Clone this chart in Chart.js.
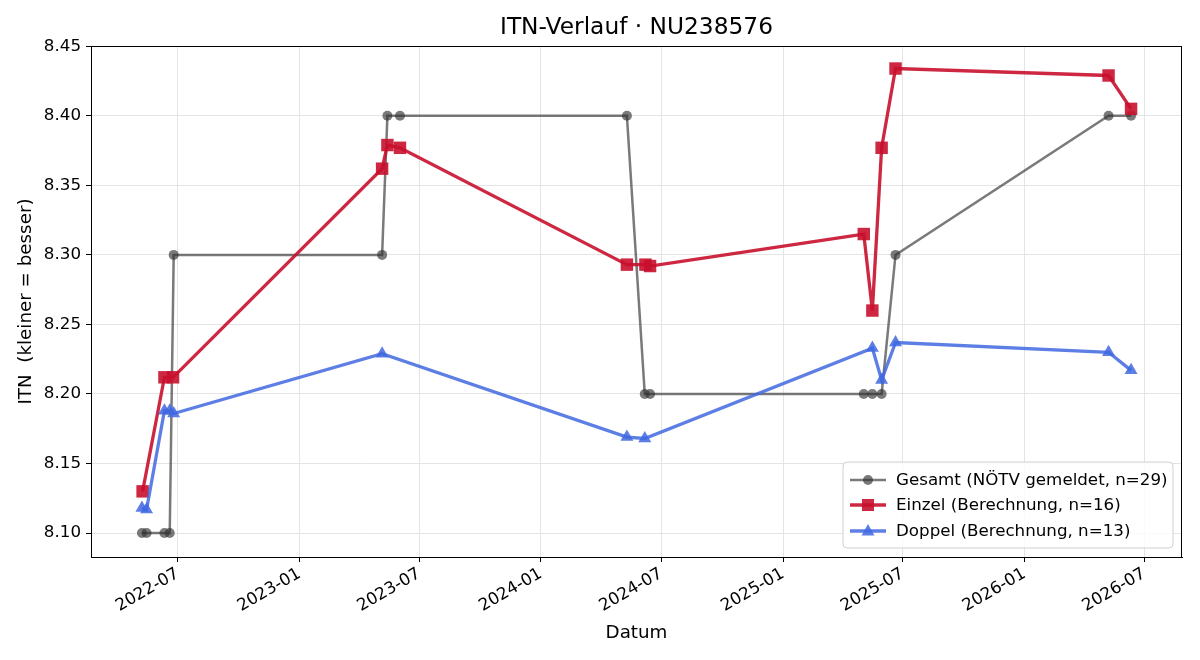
<!DOCTYPE html>
<html>
<head>
<meta charset="utf-8">
<script src="https://cdn.jsdelivr.net/npm/chart.js@4/dist/chart.umd.min.js"></script>
<style>
  html, body { margin: 0; padding: 0; background: #fff; }
  #wrap { width: 1200px; height: 660px; }
</style>
</head>
<body>
<div id="wrap"><canvas id="itnChart" width="1200" height="660"></canvas></div>
<script>
// ITN-Verlauf NU238576 — Gesamt / Einzel / Doppel over time
const chartTitle = 'ITN-Verlauf · NU238576';

const gesamtDates = ['2022-05-08', '2022-05-15', '2022-06-11', '2022-06-19', '2022-06-25', '2023-05-06', '2023-05-14', '2023-06-02',
    '2024-05-10', '2024-06-06', '2024-06-14', '2025-05-03', '2025-05-16', '2025-05-30', '2025-06-20', '2026-05-08', '2026-06-11'];
const gesamtValues = [8.10, 8.10, 8.10, 8.10, 8.30, 8.30, 8.40, 8.40, 8.40, 8.20, 8.20, 8.20, 8.20, 8.20, 8.30, 8.40, 8.40];

const einzelDates = ['2022-05-09', '2022-06-11', '2022-06-24', '2023-05-06', '2023-05-14', '2023-06-02', '2024-05-10', '2024-06-07',
    '2024-06-14', '2025-05-03', '2025-05-16', '2025-05-30', '2025-06-20', '2026-05-08', '2026-06-11'];
const einzelValues = [8.130, 8.212, 8.212, 8.362, 8.379, 8.377, 8.293, 8.293, 8.292, 8.315, 8.260, 8.377, 8.434, 8.429, 8.405];

const doppelDates = ['2022-05-08', '2022-05-15', '2022-06-11', '2022-06-19', '2022-06-25', '2023-05-06', '2024-05-10', '2024-06-06',
    '2025-05-16', '2025-05-30', '2025-06-20', '2026-05-08', '2026-06-11'];
const doppelValues = [8.118, 8.117, 8.188, 8.188, 8.186, 8.229, 8.169, 8.168, 8.233, 8.210, 8.237, 8.230, 8.217];

const xTickDates = ['2022-07-01', '2023-01-01', '2023-07-01', '2024-01-01', '2024-07-01', '2025-01-01', '2025-07-01', '2026-01-01', '2026-07-01'];
const yTicks = [8.10, 8.15, 8.20, 8.25, 8.30, 8.35, 8.40, 8.45];

const FONT = "'DejaVu Sans', 'Liberation Sans', sans-serif";

function ts(d) { return Date.parse(d + 'T00:00:00Z'); }
function toPoints(dates, values) {
    return dates.map(function (d, i) { return { x: ts(d), y: values[i] }; });
}

// title centred over the axes, frame (top/right spines) + matplotlib-style legend
const framePlugin = {
    id: 'frameLegend',
    afterDatasetsDraw: function (chart) {
        const a = chart.chartArea;
        const ctx = chart.ctx;
        ctx.save();
        ctx.strokeStyle = '#000';
        ctx.lineWidth = 1;
        ctx.strokeRect(Math.round(a.left) + 0.5, Math.round(a.top) + 0.5, Math.round(a.right - a.left) - 1, Math.round(a.bottom - a.top));

        ctx.fillStyle = '#000';
        ctx.font = '23.3px ' + FONT;
        ctx.textAlign = 'center';
        ctx.textBaseline = 'middle';
        ctx.fillText(chartTitle, (a.left + a.right) / 2, 28);

        // legend box
        const bx = 843, by = 462, bw = 330, bh = 86, r = 4;
        ctx.beginPath();
        ctx.moveTo(bx + r, by);
        ctx.arcTo(bx + bw, by, bx + bw, by + bh, r);
        ctx.arcTo(bx + bw, by + bh, bx, by + bh, r);
        ctx.arcTo(bx, by + bh, bx, by, r);
        ctx.arcTo(bx, by, bx + bw, by, r);
        ctx.closePath();
        ctx.fillStyle = 'rgba(255,255,255,0.8)';
        ctx.fill();
        ctx.strokeStyle = '#d0d0d0';
        ctx.stroke();

        const rows = [480, 505, 531];
        chart.data.datasets.forEach(function (ds, i) {
            const y = rows[i];
            ctx.strokeStyle = ds.borderColor;
            ctx.lineWidth = ds.borderWidth;
            ctx.beginPath();
            ctx.moveTo(850, y);
            ctx.lineTo(886, y);
            ctx.stroke();
            ctx.fillStyle = ds.pointBackgroundColor;
            const cx = 868;
            ctx.beginPath();
            if (ds.pointStyle === 'rect') {
                ctx.rect(cx - 6, y - 6, 12, 12);
            } else if (ds.pointStyle === 'triangle') {
                ctx.moveTo(cx, y - 7);
                ctx.lineTo(cx + 6.5, y + 4.5);
                ctx.lineTo(cx - 6.5, y + 4.5);
                ctx.closePath();
            } else {
                ctx.arc(cx, y, 5, 0, Math.PI * 2);
            }
            ctx.fill();
            ctx.fillStyle = '#000';
            ctx.font = '16.7px ' + FONT;
            ctx.textBaseline = 'middle';
            ctx.textAlign = 'left';
            ctx.fillText(ds.label, 896, y + 1);
        });
        ctx.restore();
    }
};

const ctx = document.getElementById('itnChart').getContext('2d');

new Chart(ctx, {
    type: 'line',
    data: {
        datasets: [
            {
                label: 'Gesamt (NÖTV gemeldet, n=29)',
                data: toPoints(gesamtDates, gesamtValues),
                borderColor: 'rgba(51, 51, 51, 0.65)',
                backgroundColor: 'rgba(51, 51, 51, 0.65)',
                pointBackgroundColor: 'rgba(51, 51, 51, 0.65)',
                pointBorderColor: 'rgba(51, 51, 51, 0.65)',
                borderWidth: 2.5,
                pointStyle: 'circle',
                pointRadius: 5,
                pointBorderWidth: 0,
                tension: 0,
                order: 3
            },
            {
                label: 'Einzel (Berechnung, n=16)',
                data: toPoints(einzelDates, einzelValues),
                borderColor: 'rgba(200, 16, 46, 0.9)',
                backgroundColor: 'rgba(200, 16, 46, 0.9)',
                pointBackgroundColor: 'rgba(200, 16, 46, 0.9)',
                pointBorderColor: 'rgba(200, 16, 46, 0.9)',
                borderWidth: 3.3,
                pointStyle: 'rect',
                pointRadius: 8.8,
                pointBorderWidth: 0,
                tension: 0,
                order: 2
            },
            {
                label: 'Doppel (Berechnung, n=13)',
                data: toPoints(doppelDates, doppelValues),
                borderColor: 'rgba(65, 105, 225, 0.85)',
                backgroundColor: 'rgba(65, 105, 225, 0.85)',
                pointBackgroundColor: 'rgba(65, 105, 225, 0.85)',
                pointBorderColor: 'rgba(65, 105, 225, 0.85)',
                borderWidth: 3.3,
                pointStyle: 'triangle',
                pointRadius: 7.5,
                pointBorderWidth: 0,
                tension: 0,
                order: 1
            }
        ]
    },
    options: {
        responsive: false,
        animation: false,
        layout: { padding: { left: 0, right: 18, top: 46, bottom: 0 } },
        plugins: {
            legend: { display: false },
            tooltip: { enabled: false },
            title: { display: false }
        },
        scales: {
            x: {
                type: 'linear',
                min: ts('2022-02-20'),
                max: ts('2026-08-27'),
                afterBuildTicks: function (axis) {
                    axis.ticks = xTickDates.map(function (d) { return { value: ts(d) }; });
                },
                afterFit: function (axis) { axis.height = 103; },
                ticks: {
                    color: '#000',
                    font: { family: FONT, size: 16.7 },
                    minRotation: 30,
                    maxRotation: 30,
                    padding: 2,
                    autoSkip: false,
                    callback: function (value) {
                        const d = new Date(value);
                        const m = d.getUTCMonth() + 1;
                        return d.getUTCFullYear() + '-' + (m < 10 ? '0' + m : m);
                    }
                },
                grid: { color: '#e4e4e4', tickColor: '#000', tickLength: 5, lineWidth: 1 },
                border: { display: true, color: '#000', width: 1 },
                title: {
                    display: true,
                    text: 'Datum',
                    color: '#000',
                    font: { family: FONT, size: 18.3 },
                    padding: { top: 0, bottom: 16 }
                }
            },
            y: {
                type: 'linear',
                min: 8.0828,
                max: 8.4502,
                afterBuildTicks: function (axis) {
                    axis.ticks = yTicks.map(function (v) { return { value: v }; });
                },
                afterFit: function (axis) { axis.width = 91; },
                ticks: {
                    color: '#000',
                    font: { family: FONT, size: 16.7 },
                    padding: 5,
                    callback: function (value) { return value.toFixed(2); }
                },
                grid: { color: '#e4e4e4', tickColor: '#000', tickLength: 5, lineWidth: 1 },
                border: { display: true, color: '#000', width: 1 },
                title: {
                    display: true,
                    text: 'ITN  (kleiner = besser)',
                    color: '#000',
                    font: { family: FONT, size: 18.3 },
                    padding: { top: 15, bottom: 0 }
                }
            }
        }
    },
    plugins: [framePlugin]
});
</script>
</body>
</html>
